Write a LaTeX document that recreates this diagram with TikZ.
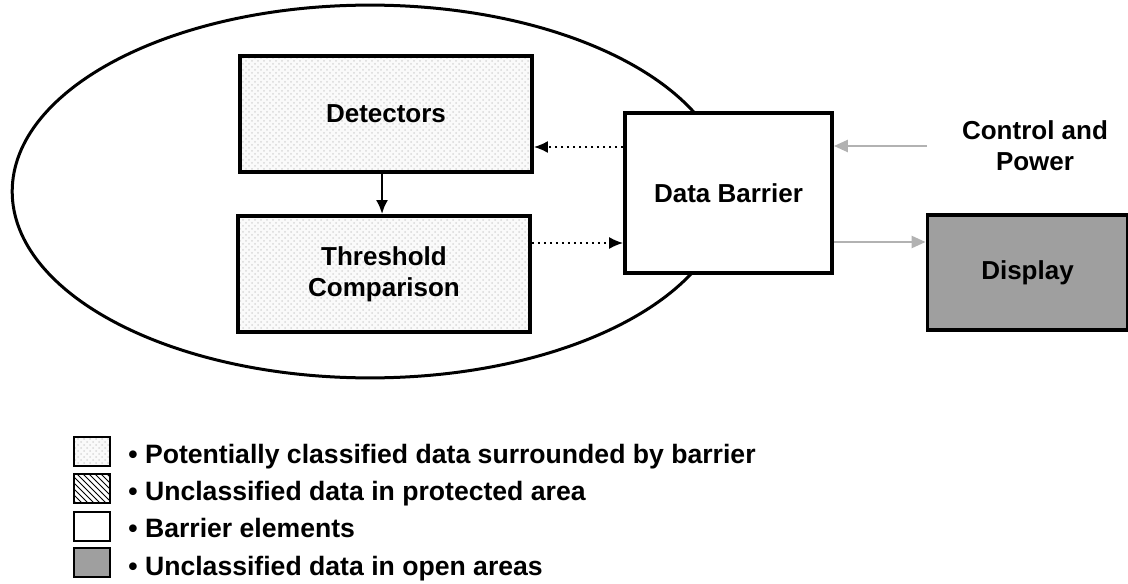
\documentclass[tikz,border=0pt]{standalone}
\usepackage{fontspec}
\setmainfont{Liberation Sans}
\usetikzlibrary{patterns,arrows.meta}

\begin{document}
\begin{tikzpicture}[x=0.5pt,y=-0.5pt,
	every node/.style={font=\fontsize{13}{15.5}\selectfont\bfseries},
	blok/.style={draw,line width=1.9pt,inner sep=0pt,align=center},
	dots/.style={preaction={fill=gray!4},preaction={pattern=crosshatch dots,pattern color=gray!30}},
	stip/.style={blok,dots},
	feed/.style={line width=0.9pt,dash pattern=on 1.2pt off 1.8pt,-{Latex[length=7pt,width=6pt]}},
	grijs/.style={gray!60,line width=1.2pt,-{Triangle[length=7pt,width=6pt]}},
	leg/.style={draw,line width=1pt,minimum width=18pt,minimum height=14.5pt,inner sep=0pt},
	legtxt/.style={anchor=base west,inner sep=0pt,font=\fontsize{13.3}{16}\selectfont\bfseries}]
\useasboundingbox (0,0) rectangle (1128,583);
% protected area
\draw[line width=1.5pt] (370,191.5) ellipse [x radius=178.9pt,y radius=93.2pt];
\node[stip,minimum width=146pt,minimum height=58pt] (det) at (386,114) {Detectors};
\node[stip,minimum width=146pt,minimum height=58pt] (thr) at (384,274) {Threshold\\Comparison};
\node[blok,fill=white,minimum width=103.5pt,minimum height=80pt] (db) at (728.5,193) {Data Barrier};
\node[blok,fill=gray!75,minimum width=100pt,minimum height=57.5pt] (disp) at (1027.5,272.5) {Display};
\node[align=center] (cp) at (1035,146) {Control and\\Power};
% connectors
\draw[line width=1.2pt,-{Latex[length=7pt,width=6pt]}] (det.south -| 382,0) -- (thr.north -| 382,0);
\draw[feed] (db.west |- 0,147) -- (det.east |- 0,147);
\draw[feed] (thr.east |- 0,243) -- (db.west |- 0,243);
\draw[grijs] ([xshift=-14pt]cp.west |- 0,146) -- (db.east |- 0,146);
\draw[grijs] (db.east |- 0,242) -- (disp.west |- 0,242);
% legend
\node[leg,dots] (l1) at (92,451.5) {};
\node[leg,preaction={pattern=north west lines}] (l2) at (92,488) {};
\node[leg] (l3) at (92,526.5) {};
\node[leg,fill=gray!75] (l4) at (92,562.5) {};
\node[legtxt] (t1) at (128,463) {\textbullet\ Potentially classified data surrounded by barrier};
\node[legtxt] (t2) at (128,500) {\textbullet\ Unclassified data in protected area};
\node[legtxt] (t3) at (128,537.5) {\textbullet\ Barrier elements};
\node[legtxt] (t4) at (128,575) {\textbullet\ Unclassified data in open areas};
\end{tikzpicture}
\end{document}
